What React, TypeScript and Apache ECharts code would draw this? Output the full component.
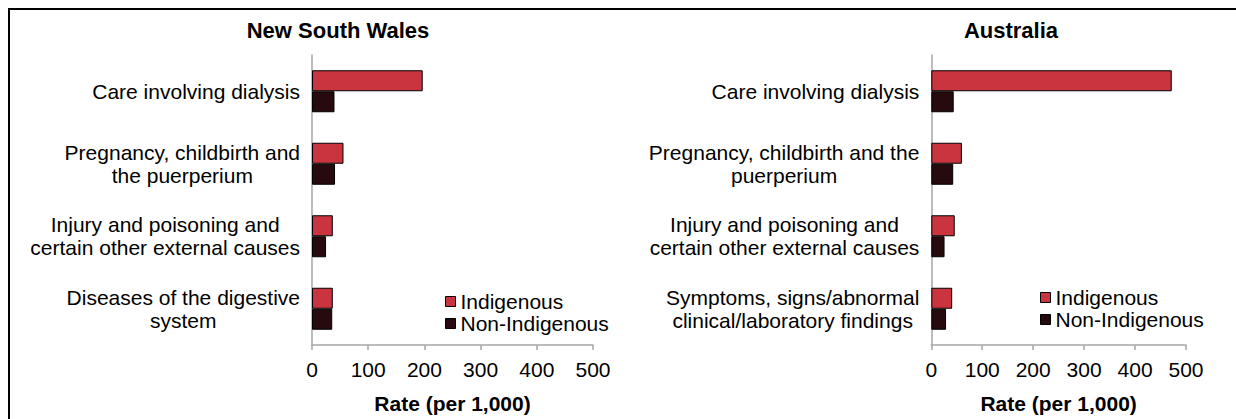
import React, { useEffect, useRef } from "react";
import * as echarts from "echarts";

const nswCategories = [
  "Care involving dialysis",
  "Pregnancy, childbirth and\nthe puerperium",
  "Injury and poisoning and\ncertain other external causes",
  "Diseases of the digestive\nsystem",
];
const ausCategories = [
  "Care involving dialysis",
  "Pregnancy, childbirth and the\npuerperium",
  "Injury and poisoning and\ncertain other external causes",
  "Symptoms, signs/abnormal\nclinical/laboratory findings",
];
const nswIndigenous = [197, 56, 37, 37];
const nswNonIndigenous = [40, 41, 25, 36];
const ausIndigenous = [472, 60, 46, 41];
const ausNonIndigenous = [44, 43, 26, 29];
const xTicks = [0, 100, 200, 300, 400, 500];
const seriesNames = ["Indigenous", "Non-Indigenous"];
const panelTitles = ["New South Wales", "Australia"];
const axisTitle = "Rate (per 1,000)";

const FONT = 'Arial, "Liberation Sans", sans-serif';
const RED = "#c9343e";
const DARK = "#260a0e";
const AXIS_GRAY = "#a6a6a6";

export default function App() {
  const ref = useRef<HTMLDivElement>(null);

  useEffect(() => {
    if (!ref.current) return;
    const chart = echarts.init(ref.current, undefined, { renderer: "svg" });

    const grids = [
      { left: 302, top: 45, width: 281, height: 290 },
      { left: 921.3, top: 45, width: 254.7, height: 290 },
    ];

    const xAxisCfg = (gridIndex: number) => ({
      type: "value",
      gridIndex,
      min: xTicks[0],
      max: xTicks[xTicks.length - 1],
      interval: xTicks[1] - xTicks[0],
      name: axisTitle,
      nameLocation: "middle",
      nameGap: 48,
      nameTextStyle: { fontFamily: FONT, fontSize: 21, fontWeight: "bold", color: "#000" },
      axisLine: { show: true, lineStyle: { color: AXIS_GRAY, width: 1.5 } },
      axisTick: { show: true, length: 5, lineStyle: { color: AXIS_GRAY, width: 1.5 } },
      axisLabel: { fontFamily: FONT, fontSize: 21, color: "#000", margin: 14 },
      splitLine: { show: false },
    });

    const yAxisCfg = (gridIndex: number, data: string[]) => ({
      type: "category",
      gridIndex,
      inverse: true,
      data,
      axisLine: { show: true, lineStyle: { color: AXIS_GRAY, width: 1.5 } },
      axisTick: { show: false },
      axisLabel: {
        margin: 12,
        fontFamily: FONT,
        fontSize: 21,
        color: "#000",
        lineHeight: 23,
        formatter: (v: string) =>
          v
            .split("\n")
            .map((s) => `{c|${s}}`)
            .join("\n"),
        rich: {
          c: { align: "center", fontFamily: FONT, fontSize: 21, lineHeight: 23, color: "#000" },
        },
      },
    });

    const barSeries = (name: string, data: number[], color: string, idx: number) => ({
      type: "bar",
      name,
      data,
      xAxisIndex: idx,
      yAxisIndex: idx,
      barWidth: 21,
      barGap: "0%",
      itemStyle: { color, borderColor: "#000", borderWidth: 1 },
    });

    const legendCfg = (left: number, top: number) => ({
      orient: "vertical",
      left,
      top,
      padding: 0,
      itemGap: 1,
      itemWidth: 10,
      itemHeight: 10,
      icon: "rect",
      data: seriesNames,
      itemStyle: { borderColor: "#000", borderWidth: 1 },
      textStyle: { fontFamily: FONT, fontSize: 21, color: "#000" },
      selectedMode: false,
    });

    chart.setOption({
      animation: false,
      grid: grids,
      xAxis: [xAxisCfg(0), xAxisCfg(1)],
      yAxis: [yAxisCfg(0, nswCategories), yAxisCfg(1, ausCategories)],
      legend: [legendCfg(435, 281), legendCfg(1030, 277)],
      series: [
        barSeries(seriesNames[0], nswIndigenous, RED, 0),
        barSeries(seriesNames[1], nswNonIndigenous, DARK, 0),
        barSeries(seriesNames[0], ausIndigenous, RED, 1),
        barSeries(seriesNames[1], ausNonIndigenous, DARK, 1),
      ],
      graphic: [
        {
          type: "text",
          x: 328,
          y: 20,
          style: {
            text: panelTitles[0],
            font: `bold 22px ${FONT}`,
            fill: "#000",
            textAlign: "center",
            textVerticalAlign: "middle",
          },
        },
        {
          type: "text",
          x: 1001,
          y: 20,
          style: {
            text: panelTitles[1],
            font: `bold 22px ${FONT}`,
            fill: "#000",
            textAlign: "center",
            textVerticalAlign: "middle",
          },
        },
      ],
    });

    return () => {
      chart.dispose();
    };
  }, []);

  return (
    <div
      style={{
        position: "fixed",
        left: 8,
        top: 8,
        width: 1228,
        height: 411,
        boxSizing: "border-box",
        borderTop: "2px solid #000",
        borderLeft: "2px solid #000",
        background: "#fff",
      }}
    >
      <div ref={ref} style={{ width: 1226, height: 409 }} />
    </div>
  );
}
